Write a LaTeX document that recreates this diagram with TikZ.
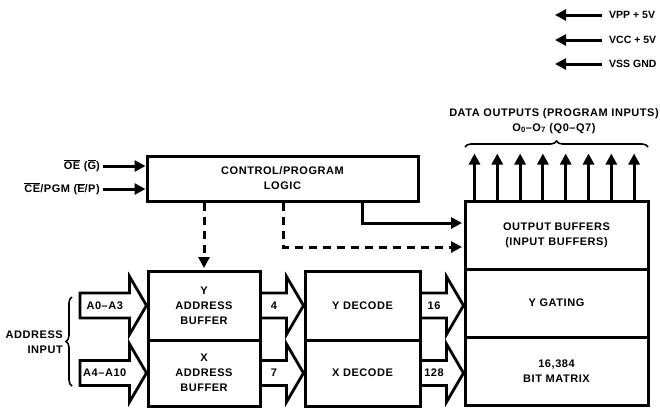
\documentclass[tikz,border=0pt]{standalone}
\usepackage{fontspec}
\setmainfont{Liberation Sans}[LetterSpace=5]
\usetikzlibrary{arrows.meta,calc,decorations.pathreplacing}
\newcommand{\ovl}[1]{\ensuremath{\overline{\mbox{#1}}}}
\newcommand{\fatarr}[3]{\draw[fat] let \p1=(#1), \p2=(#2) in
  (\x1,\y1+12.5pt) -- (\x2-17pt,\y1+12.5pt) -- (\x2-17pt,\y1+29pt) -- (\x2,\y1)
  -- (\x2-17pt,\y1-29pt) -- (\x2-17pt,\y1-12.5pt) -- (\x1,\y1-12.5pt)
  node[lbl] at ({(\x1+\x2)/2-8.5pt},\y1) {#3};}
\newcommand{\fatarrc}[3]{\draw[fat] let \p1=(#1), \p2=(#2) in
  (\x1,\y1+12.5pt) -- (\x2-17pt,\y1+12.5pt) -- (\x2-17pt,\y1+29pt) -- (\x2,\y1)
  -- (\x2-17pt,\y1-29pt) -- (\x2-17pt,\y1-12.5pt) -- (\x1,\y1-12.5pt) -- cycle
  node[lbl] at ({(\x1+\x2)/2-8.5pt},\y1) {#3};}
\begin{document}
\begin{tikzpicture}[x=1pt,y=-1pt,
  font=\fontsize{11}{15}\selectfont\bfseries,
  box/.style={draw, line width=3pt, inner sep=0pt, align=center},
  fat/.style={line width=2.8pt, line join=miter},
  lbl/.style={inner sep=0pt},
  pwr/.style={lbl, anchor=west, font=\fontsize{10.5}{15}\selectfont\bfseries\addfontfeature{LetterSpace=0}},
  sarr/.style={line width=3pt, -{Triangle[length=11pt,width=11pt]}},
  darr/.style={sarr, dash pattern=on 8pt off 6pt},
  brc/.style={line width=1.6pt, decorate, decoration={brace, amplitude=6pt}}]
\useasboundingbox (0,0) rectangle (660,408);

% boxes
\node[box, minimum width=271, minimum height=45] (ctrl) at (282.5,178.5) {CONTROL/PROGRAM\\LOGIC};
\node[box, minimum width=183, minimum height=68] (ob) at (556.5,235) {OUTPUT BUFFERS\\(INPUT BUFFERS)};
\node[box, minimum width=183, minimum height=68] (yg) at (556.5,303) {Y GATING};
\node[box, minimum width=183, minimum height=68] (bm) at (556.5,371) {16,384\\BIT MATRIX};
\node[box, minimum width=112, minimum height=69] (yab) at (204,305.5) {Y\\ADDRESS\\BUFFER};
\node[box, minimum width=112, minimum height=66] (xab) at (204,373) {X\\ADDRESS\\BUFFER};
\node[box, minimum width=115, minimum height=69] (ydec) at (362.5,305.5) {Y DECODE};
\node[box, minimum width=115, minimum height=66] (xdec) at (362.5,373) {X DECODE};

% power pins
\coordinate (vpp) at (602,15);
\coordinate (vcc) at (602,40);
\coordinate (vss) at (602,64);
\draw[sarr] (vpp) -- ++(-47,0);
\draw[sarr] (vcc) -- ++(-47,0);
\draw[sarr] (vss) -- ++(-47,0);
\node[pwr] (lvpp) at (609,15) {VPP + 5V};
\node[pwr] (lvcc) at (609,40) {VCC + 5V};
\node[pwr] (lvss) at (609,64) {VSS GND};

% control inputs
\coordinate (oe) at (103,166);
\coordinate (ce) at (103,189);
\draw[sarr] (oe) -- (oe -| ctrl.west);
\draw[sarr] (ce) -- (ce -| ctrl.west);
\node[lbl, anchor=east] (loe) at (100,166) {\ovl{OE} (\ovl{G})};
\node[lbl, anchor=east] (lce) at (100,189) {\ovl{CE}/PGM (\ovl{E}/P)};

% control outputs
\coordinate (s1) at (362,223);
\coordinate (d1) at (283,247);
\draw[darr] (ctrl.south -| yab.north) -- ($(yab.north)+(0,-1.5)$);
\draw[sarr] (ctrl.south -| s1) |- ($(ob.west |- s1)+(-1.5,0)$);
\draw[darr] (ctrl.south -| d1) |- ($(ob.west |- d1)+(-1.5,0)$);

% data outputs
\foreach \i in {0,...,7}
  \draw[sarr] ($(ob.north west)+(11+\i*22.8,0)$) -- ++(0,-46);
\draw[brc] (465,147) -- (648,147);
\node[lbl, align=center] (dout) at (554,121) {DATA OUTPUTS (PROGRAM INPUTS)\\O\textsubscript{0}--O\textsubscript{7} (Q0--Q7)};

% address inputs
\coordinate (a03) at (80,305.5);
\coordinate (a410) at (80,373);
\fatarrc{a03}{yab.west}{A0--A3}
\fatarrc{a410}{xab.west}{A4--A10}
\draw[brc] (72,386) -- (72,297);
\node[lbl, align=right, anchor=east] (ain) at (63,342) {ADDRESS\\INPUT};

% internal buses
\fatarr{yab.east}{ydec.west}{4}
\fatarr{xab.east}{xdec.west}{7}
\fatarr{ydec.east}{yg.west}{16}
\fatarr{xdec.east}{bm.west}{128}
\end{tikzpicture}
\end{document}
